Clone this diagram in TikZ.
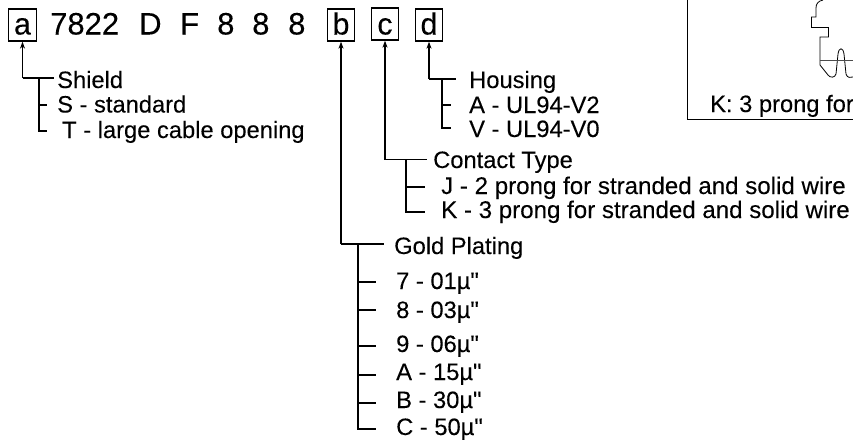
\documentclass[tikz,border=0pt]{standalone}
\usepackage{fontspec}
\newfontfamily\lib[FakeBold=0.12]{Liberation Sans}
\usetikzlibrary{arrows.meta}
\tikzset{
  x=1pt,y=-1pt,
  bx/.style={draw=black,line width=1.3pt,minimum width=27.5pt,minimum height=32pt,inner sep=0pt,font=\lib\fontsize{30.5}{30.5}\selectfont,text height=22pt,text depth=3pt},
  big/.style={anchor=base west,inner sep=0pt,font=\lib\fontsize{31}{31}\selectfont},
  lbl/.style={anchor=base west,inner sep=0pt,font=\lib\fontsize{23.7}{23.7}\selectfont},
  lblw/.style={lbl,font=\lib\fontsize{24.1}{24.1}\selectfont},
  ldr/.style={line width=1.3pt,line cap=butt,line join=miter},
  arr/.style={ldr,-{Stealth[length=7pt,width=5pt]}},
}
\begin{document}
\begin{tikzpicture}
\useasboundingbox (0,0) rectangle (853,440);
% boxes
\node[bx] (a) at (22.5,25) {a};
\node[bx] (b) at (341,25) {b};
\node[bx,text height=23pt,text depth=2pt] (c) at (385,24) {c};
\node[bx] (d) at (429,25) {d};
\node[big] (t1) at (50,34.5) {7822};
\node[big] (t2) at (139,34.5) {D};
\node[big] (t3) at (180,34.5) {F};
\node[big] (t4) at (217,34.5) {8};
\node[big] (t5) at (252,34.5) {8};
\node[big] (t6) at (288,34.5) {8};
% shield
\node[lbl] (sh) at (57,88) {Shield};
\node[lbl] (ss) at (57,112.5) {S - standard};
\node[lbl] (st) at (62,138) {T - large cable opening};
\coordinate (a1) at (22.5,78);
\coordinate (a2) at (54,78);
\coordinate (a3) at (39,78);
\coordinate (a4) at (39,131);
\coordinate (a5) at (47,131);
\coordinate (a6) at (39,105);
\coordinate (a7) at (47,105);
\draw[arr] (a1) -- (a.south);
\draw[ldr] (a1) -- (a2);
\draw[ldr] (a3) -- (a4) -- (a5);
\draw[ldr] (a6) -- (a7);
% housing
\node[lbl] (dh) at (469,88) {Housing};
\node[lbl] (da) at (469,113) {A - UL94-V2};
\node[lbl] (dv) at (469,137) {V - UL94-V0};
\coordinate (d1) at (429,79);
\coordinate (d2) at (456,79);
\coordinate (d3) at (442,79);
\coordinate (d4) at (442,128);
\coordinate (d5) at (451,128);
\coordinate (d6) at (442,105);
\coordinate (d7) at (451,105);
\draw[arr] (d1) -- (d.south);
\draw[ldr] (d1) -- (d2);
\draw[ldr] (d3) -- (d4) -- (d5);
\draw[ldr] (d6) -- (d7);
% contact
\node[lbl] (ch) at (433,168) {Contact Type};
\node[lblw] (cj) at (441,194) {J - 2 prong for stranded and solid wire};
\node[lblw] (ck) at (441,218) {K - 3 prong for stranded and solid wire};
\coordinate (c1) at (385,159.5);
\coordinate (c2) at (427,159.5);
\coordinate (c3) at (406,159.5);
\coordinate (c4) at (406,212);
\coordinate (c5) at (425,212);
\coordinate (c6) at (406,187);
\coordinate (c7) at (425,187);
\draw[arr] (c1) -- (c.south);
\draw[ldr] (c1) -- (c2);
\draw[ldr] (c3) -- (c4) -- (c5);
\draw[ldr] (c6) -- (c7);
% gold
\node[lbl] (bh) at (394,254) {Gold Plating};
\node[lbl] (b7) at (396,289) {7 - 01µ"};
\node[lbl] (b8) at (396,318) {8 - 03µ"};
\node[lbl] (b9) at (396,352) {9 - 06µ"};
\node[lbl] (bA) at (396,380) {A - 15µ"};
\node[lbl] (bB) at (396,408) {B - 30µ"};
\node[lbl] (bC) at (396,435) {C - 50µ"};
\coordinate (b1) at (341,244);
\coordinate (b2) at (384,244);
\coordinate (b3) at (358,244);
\coordinate (b4) at (358,429);
\coordinate (b5) at (376,429);
\draw[arr] (b1) -- (b.south);
\draw[ldr] (b1) -- (b2);
\draw[ldr] (b3) -- (b4) -- (b5);
\foreach \yy in {282,310,346,375,403}{\draw[ldr] (358,\yy) -- (376,\yy);}
% figure box
\node[lbl] (kk) at (710,112) {K: 3 prong for};
\coordinate (f1) at (687.5,0);
\coordinate (f2) at (687.5,119.5);
\coordinate (f3) at (853,119.5);
\draw[line width=1.3pt] (f1) -- (f2) -- (f3);
\draw[line width=0.8pt] (823,0) .. controls (818,1) and (816,4) .. (816,8)
  -- (816,17) -- (811.5,17) -- (811.5,27.5) -- (828.5,27.5) -- (828.5,37) -- (820,37) -- (820,65)
  -- (828,75) .. controls (830,78) and (835,78) .. (836,74)
  -- (838,54) .. controls (839,47) and (843,47) .. (844,54)
  -- (846,74) .. controls (847,78) and (851,78) .. (853,77);
\draw[line width=0.5pt,black!70] (820,60) -- (853,60);
\end{tikzpicture}
\end{document}
